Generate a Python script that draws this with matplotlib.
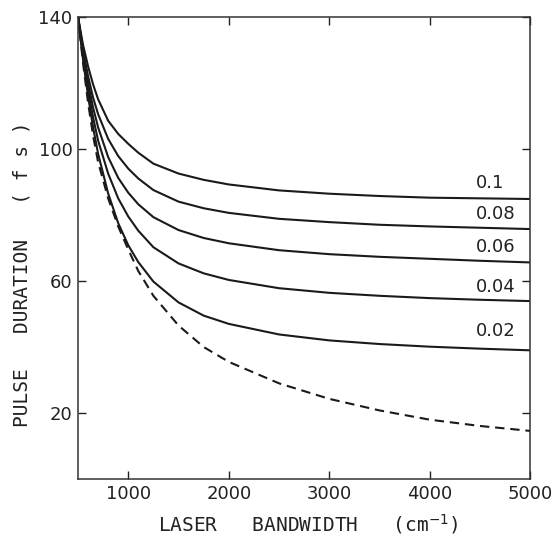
import matplotlib
matplotlib.use('Agg')
import matplotlib.pyplot as plt

# laser bandwidth (cm-1) where curves were read
bandwidth = [500, 550, 600, 650, 700, 800, 900, 1000, 1100, 1250, 1500,
             1750, 2000, 2500, 3000, 3500, 4000, 4500, 5000]

# pulse duration (fs) for each parameter value
dur_01 = [140, 131.5, 125, 119.5, 115, 108.5, 104.5, 101.5, 98.8, 95.5, 92.5,
          90.6, 89.2, 87.4, 86.4, 85.7, 85.2, 85, 84.8]
dur_008 = [140, 130, 122, 115.5, 110.5, 103, 97.8, 94, 91, 87.5, 84,
           82, 80.6, 78.8, 77.8, 77, 76.5, 76.1, 75.7]
dur_006 = [140, 129, 120, 112.5, 106.5, 97.5, 91.2, 86.7, 83.2, 79.3, 75.4,
           73, 71.4, 69.3, 68.1, 67.3, 66.7, 66.1, 65.6]
dur_004 = [140, 128, 118, 109.5, 102.5, 92.5, 85, 79.5, 75.2, 70.2, 65.3,
           62.3, 60.3, 57.8, 56.4, 55.5, 54.8, 54.3, 53.9]
dur_002 = [140, 127, 116, 106.5, 98.5, 86.5, 77.5, 70.8, 65.7, 59.8, 53.5,
           49.5, 47, 43.8, 42, 40.9, 40.1, 39.5, 39]
dur_limit = [140, 126, 114, 104, 96, 85, 76.5, 69.5, 63, 55.5, 46.5,
             40, 35.5, 29, 24.3, 20.8, 18, 16.1, 14.6]

labels = ['0.1', '0.08', '0.06', '0.04', '0.02']
label_y = [89.7, 80.4, 70.4, 58.3, 44.7]

fig = plt.figure(figsize=(5.59, 5.36), dpi=100)
ax = fig.add_axes([0.1395, 0.106, 0.8095, 0.863])

for d in [dur_01, dur_008, dur_006, dur_004, dur_002]:
    ax.plot(bandwidth, d, color='#1a1a1a', lw=1.5)
ax.plot(bandwidth, dur_limit, color='#1a1a1a', lw=1.5, dashes=(4.5, 2.8))

for lab, yy in zip(labels, label_y):
    ax.text(4460, yy, lab, ha='left', va='center', fontsize=13, color='#222222')

ax.set_xlim(500, 5000)
ax.set_ylim(0, 140)
ax.set_xticks([1000, 2000, 3000, 4000, 5000])
ax.set_yticks([20, 60, 100, 140])
ax.tick_params(direction='in', length=6, width=1, top=True, right=True,
               labelsize=13, colors='#222222', pad=4)
for s in ax.spines.values():
    s.set_linewidth(1.1)
    s.set_color('#333333')

# wide spaced lettering like the original stencil labels
ax.set_xlabel('LASER   BANDWIDTH   (cm$^{-1}$)', fontsize=14, color='#222222',
              family='DejaVu Sans Mono')
ax.set_ylabel('PULSE   DURATION   ( f s )', fontsize=14, color='#222222',
              family='DejaVu Sans Mono')
ax.xaxis.set_label_coords(0.51, -0.071)
ax.yaxis.set_label_coords(-0.103, 0.443)

plt.savefig('out.png', dpi=100)
